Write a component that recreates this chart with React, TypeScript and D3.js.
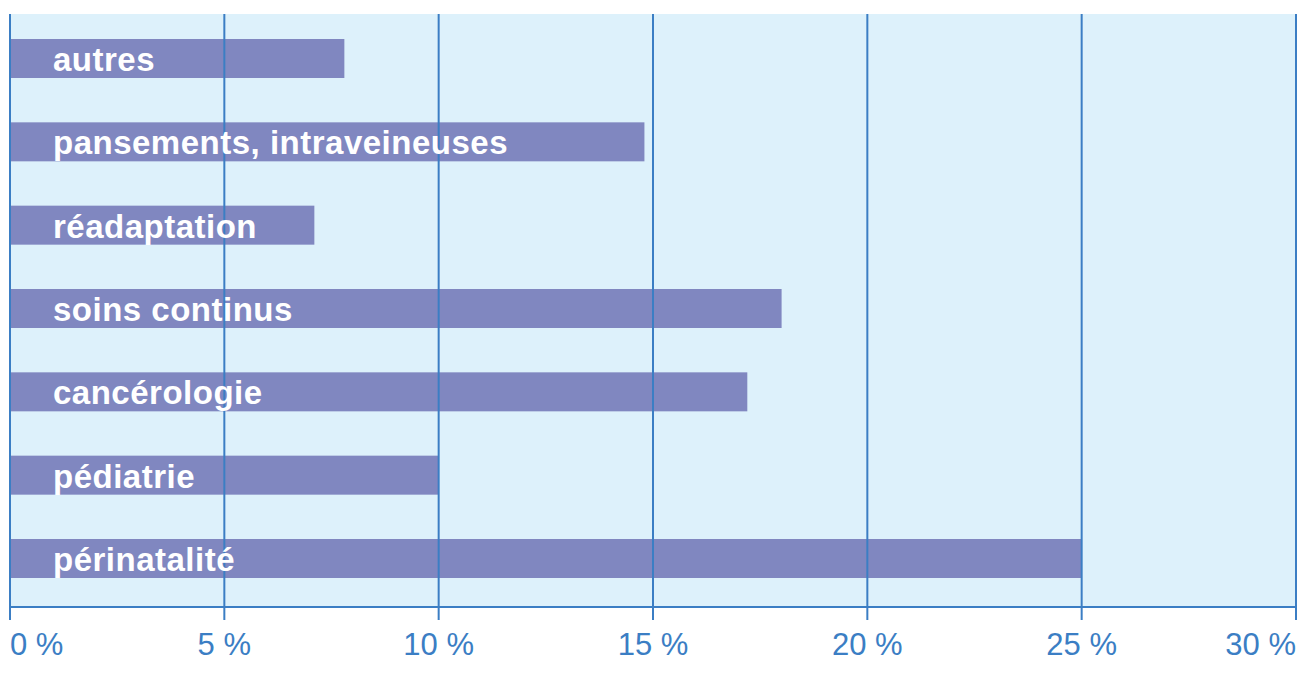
import * as d3 from "d3";

const categories = [
  "autres",
  "pansements, intraveineuses",
  "réadaptation",
  "soins continus",
  "cancérologie",
  "pédiatrie",
  "périnatalité",
];
const values = [7.8, 14.8, 7.1, 18.0, 17.2, 10.0, 25.0];
const ticks = [0, 5, 10, 15, 20, 25, 30];

const W = 1298;
const H = 677;
const left = 10;
const right = 1296;
const top = 14;
const bottom = 607;
const barH = 38;
const blue = "#3b7ec4";

export default function App() {
  const x = d3.scaleLinear().domain([0, 30]).range([left, right]);
  const y = d3.scalePoint<string>().domain(categories).range([58, 558]);

  return (
    <svg
      width={W}
      height={H}
      style={{ position: "absolute", left: 0, top: 0 }}
      fontFamily="'Liberation Sans', Arial, sans-serif"
    >
      <rect x={0} y={0} width={W} height={H} fill="#fff" />
      <rect x={left} y={top} width={right - left} height={bottom - top} fill="#ddf1fb" />
      {categories.map((c, i) => (
        <rect
          key={c}
          x={x(0)}
          y={(y(c) ?? 0) - barH / 2}
          width={x(values[i]) - x(0)}
          height={barH + 1}
          fill="#8087c0"
        />
      ))}
      {ticks.map((t) => (
        <line key={t} x1={x(t)} x2={x(t)} y1={top} y2={620} stroke={blue} strokeWidth={2} />
      ))}
      <line x1={left - 1} x2={right + 1} y1={bottom} y2={bottom} stroke={blue} strokeWidth={2} />
      {categories.map((c) => (
        <text
          key={c}
          x={53}
          y={(y(c) ?? 0) + 13}
          fill="#fff"
          fontWeight="bold"
          fontSize={33}
          letterSpacing={0.5}
        >
          {c}
        </text>
      ))}
      {ticks.map((t, i) => (
        <text
          key={t}
          x={x(t)}
          y={655}
          fill={blue}
          fontSize={31}
          textAnchor={i === 0 ? "start" : i === ticks.length - 1 ? "end" : "middle"}
        >
          {t} %
        </text>
      ))}
    </svg>
  );
}
